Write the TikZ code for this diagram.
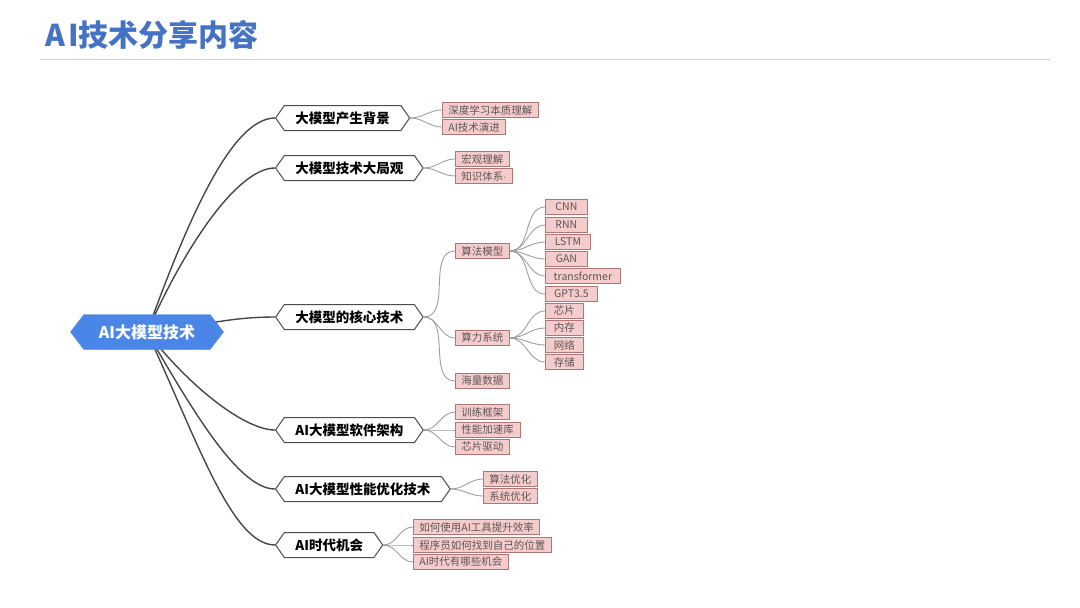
\documentclass[tikz,border=0pt]{standalone}
\usepackage{fontspec}
\setmainfont{Noto Sans CJK SC}
\usetikzlibrary{shapes.symbols,positioning,backgrounds}
\definecolor{titleblue}{RGB}{68,114,196}
\definecolor{rootblue}{RGB}{74,134,232}
\definecolor{leafpink}{RGB}{244,204,204}
\definecolor{leafedge}{RGB}{176,118,118}
\definecolor{leaftext}{RGB}{95,85,85}

\begin{document}
\begin{tikzpicture}[x=1pt,y=-1pt]
  % Styles for the mind map
  \tikzset{rootbox/.style={shape=signal, signal to=east and west, signal pointer angle=105, fill=rootblue, draw=rootblue, text=white, font=\fontsize{16}{16}\selectfont\bfseries, minimum height=35pt, inner xsep=15pt}}
  \tikzset{topicbox/.style={shape=signal, signal to=east and west, signal pointer angle=110, draw=black!70, line width=1pt, fill=white, font=\fontsize{13.5}{14}\selectfont\bfseries, minimum height=25pt, inner xsep=11pt, anchor=west}}
  \tikzset{leafbox/.style={draw=leafedge, fill=leafpink, text=leaftext, font=\fontsize{10.5}{11}\selectfont, minimum height=15pt, inner xsep=6pt, inner ysep=1pt, anchor=west, line width=0.8pt}}
  \tikzset{trunk/.style={draw=black!72, line width=1.4pt}}
  \tikzset{twig/.style={draw=black!38, line width=0.9pt}}

  \useasboundingbox (0,0) rectangle (1080,608);

  % title
  \node[anchor=west, text=titleblue, font=\fontsize{30}{30}\selectfont\bfseries] (title) at (42,35) {A\kern3pt I技术分享内容};
  \draw[black!18, line width=1pt] (40,59) -- (1050,59);

  % root and topics
  \node[rootbox] (root) at (147,332) {AI大模型技术};
  \node[topicbox] (tBg) at (275,118) {大模型产生背景};
  \node[topicbox] (tBig) at (275,168) {大模型技术大局观};
  \node[topicbox] (tCore) at (275,317) {大模型的核心技术};
  \node[topicbox] (tSoft) at (275,430) {AI大模型软件架构};
  \node[topicbox] (tPerf) at (275,489) {AI大模型性能优化技术};
  \node[topicbox] (tEra) at (275,545) {AI时代机会};

  \begin{scope}[on background layer]
    \draw[trunk] (root.center) to[out=70,in=180,out looseness=1.2,in looseness=0.45] (tBg.west);
    \draw[trunk] (root.center) to[out=66,in=180,out looseness=1.2,in looseness=0.45] (tBig.west);
    \draw[trunk] (root.center) to[out=5,in=180] (tCore.west);
    \draw[trunk] (root.center) to[out=-52,in=180,out looseness=1.2,in looseness=0.45] (tSoft.west);
    \draw[trunk] (root.center) to[out=-60,in=180,out looseness=1.2,in looseness=0.45] (tPerf.west);
    \draw[trunk] (root.center) to[out=-65,in=180,out looseness=1.2,in looseness=0.45] (tEra.west);
  \end{scope}

  % 大模型产生背景
  \foreach \nm/\y/\txt in {lDeep/110/深度学习本质理解, lEvo/127/AI技术演进} {
    \node[leafbox] (\nm) at (442,\y) {\txt};
    \draw[twig] (tBg.east) to[out=0,in=180] (\nm.west);
  }

  % 大模型技术大局观
  \foreach \nm/\y/\txt in {lMacro/159/宏观理解, lKnow/176/知识体系$\cdot$} {
    \node[leafbox] (\nm) at (455,\y) {\txt};
    \draw[twig] (tBig.east) to[out=0,in=180] (\nm.west);
  }

  % 大模型的核心技术
  \foreach \nm/\y/\txt in {lAlgo/251/算法模型, lComp/338/算力系统, lData/381/海量数据} {
    \node[leafbox] (\nm) at (455,\y) {\txt};
    \draw[twig] (tCore.east) to[out=0,in=180] (\nm.west);
  }
  \foreach \nm/\y/\w/\txt in {lCnn/207/42/CNN, lRnn/225/42/RNN, lLstm/242/45/LSTM, lGan/259/42/GAN, lTrans/276/75/transformer, lGpt/294/52/GPT3.5} {
    \node[leafbox, minimum width=\w pt] (\nm) at (545,\y) {\txt};
    \draw[twig] (lAlgo.east) to[out=0,in=180] (\nm.west);
  }
  \foreach \nm/\y/\txt in {lChip/311/芯片, lMem/328/内存, lNet/345/网络, lStore/362/存储} {
    \node[leafbox, minimum width=38pt] (\nm) at (545,\y) {\txt};
    \draw[twig] (lComp.east) to[out=0,in=180] (\nm.west);
  }

  % AI大模型软件架构
  \foreach \nm/\y/\txt in {lTrain/412/训练框架, lAccel/430/性能加速库, lDrv/447/芯片驱动} {
    \node[leafbox] (\nm) at (455,\y) {\txt};
    \draw[twig] (tSoft.east) to[out=0,in=180] (\nm.west);
  }

  % AI大模型性能优化技术
  \foreach \nm/\y/\txt in {lAlgOpt/479/算法优化, lSysOpt/496/系统优化} {
    \node[leafbox] (\nm) at (483,\y) {\txt};
    \draw[twig] (tPerf.east) to[out=0,in=180] (\nm.west);
  }

  % AI时代机会
  \foreach \nm/\y/\txt in {lTool/527/如何使用AI工具提升效率, lPlace/545/程序员如何找到自己的位置, lChance/562/AI时代有哪些机会} {
    \node[leafbox] (\nm) at (413,\y) {\txt};
    \draw[twig] (tEra.east) to[out=0,in=180] (\nm.west);
  }
\end{tikzpicture}
\end{document}
